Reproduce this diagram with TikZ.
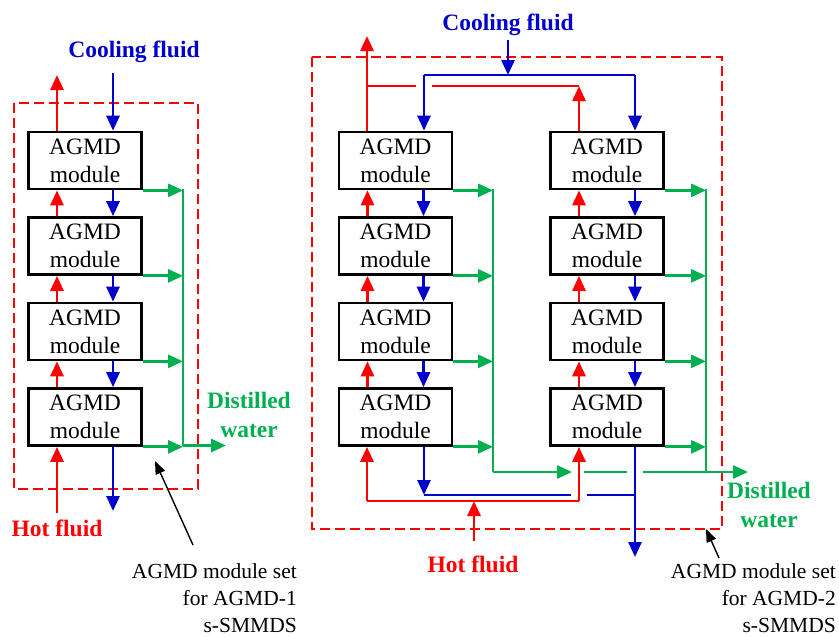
\documentclass[tikz,border=0pt]{standalone}
\usepackage{fontspec}
\setmainfont{Liberation Serif}
\usetikzlibrary{arrows.meta,calc}
\definecolor{cred}{RGB}{255,0,0}
\definecolor{cblue}{RGB}{0,0,204}
\definecolor{cgreen}{RGB}{0,176,80}
\begin{document}
\begin{tikzpicture}[x=1pt,y=-1pt,
  module/.style={draw,line width=2.7pt,minimum width=113pt,minimum height=57pt,inner sep=0pt,align=center,font=\fontsize{23.5}{28}\selectfont},
  pipe/.style={line width=2.8pt},
  tip/.style={-{Triangle[length=15pt,width=13pt]}},
  hot/.style={pipe,cred},
  cold/.style={pipe,cblue},
  dist/.style={pipe,cgreen},
  frame/.style={cred,line width=1.6pt,dash pattern=on 10pt off 5pt},
  lab/.style={font=\bfseries\fontsize{23.5}{29}\selectfont,align=center,inner sep=0pt},
  note/.style={font=\fontsize{21.5}{27}\selectfont,align=right,inner sep=0pt},
  pointer/.style={line width=1.4pt,-{Triangle[length=13pt,width=10pt]}}
]
\useasboundingbox (0,0) rectangle (839,637);

% frames
\draw[frame] (14,103) rectangle (198,489);
\draw[frame] (312,57) rectangle (722,529);

% modules
\foreach \i/\y in {1/160.5,2/246,3/331.5,4/417}{
  \node[module] (L\i) at (85,\y) {AGMD\\module};
  \node[module] (A\i) at (395.5,\y) {AGMD\\module};
  \node[module] (B\i) at (607,\y) {AGMD\\module};
}

% ---------- between modules ----------
\foreach \i/\j in {1/2,2/3,3/4}{
  \draw[hot,tip] ([xshift=-28pt]L\j.north) -- ([xshift=-28pt]L\i.south);
  \draw[cold,tip] ([xshift=28pt]L\i.south) -- ([xshift=28pt]L\j.north);
  \draw[hot,tip] ([xshift=-28pt]A\j.north) -- ([xshift=-28pt]A\i.south);
  \draw[cold,tip] ([xshift=28pt]A\i.south) -- ([xshift=28pt]A\j.north);
  \draw[hot,tip] ([xshift=-28pt]B\j.north) -- ([xshift=-28pt]B\i.south);
  \draw[cold,tip] ([xshift=28pt]B\i.south) -- ([xshift=28pt]B\j.north);
}

% ---------- left set ----------
\coordinate (LhotOut) at (57,75);
\coordinate (LcoolIn) at (113,73);
\coordinate (LhotIn) at (57,513);
\coordinate (LcoolOut) at (113,511);
\draw[hot,tip] ([xshift=-28pt]L1.north) -- (LhotOut);
\draw[cold,tip] (LcoolIn) -- ([xshift=28pt]L1.north);
\draw[hot,tip] (LhotIn) -- ([xshift=-28pt]L4.south);
\draw[cold,tip] ([xshift=28pt]L4.south) -- (LcoolOut);

\coordinate (LgTop) at (183,189);
\coordinate (LgBot) at (183,445.5);
\coordinate (LgOut) at (226,445.5);
\foreach \i in {1,2,3,4}{
  \draw[dist,tip] (L\i.south east) -- (L\i.south east -| LgTop);
}
\draw[dist] (LgTop) -- (LgBot);
\draw[dist,tip] (LgBot) -- (LgOut);

\node[lab,cblue] (LcoolLab) at (134,52) {Cooling fluid};
\node[lab,cred] (LhotLab) at (57,528) {Hot fluid};
\node[lab,cgreen] (LdistLab) at (249,415) {Distilled\\water};

\node[note,anchor=north east] (Lnote) at (297,563) {AGMD module set\\for AGMD-1\\s-SMMDS};
\coordinate (LpStart) at (193,545);
\coordinate (LpEnd) at (155,461);
\draw[pointer] (LpStart) -- (LpEnd);

% ---------- right set ----------
% top cooling distribution
\coordinate (RcoolIn) at (508,40);
\coordinate (RcoolJ) at (508,75);
\coordinate (RcoolA) at (424,75);
\coordinate (RcoolB) at (635,75);
\draw[cold,tip] (RcoolIn) -- (RcoolJ);
\draw[cold] (RcoolA) -- (RcoolB);
\draw[cold,tip] (RcoolA) -- ([xshift=28.5pt]A1.north);
\draw[cold,tip] (RcoolB) -- ([xshift=28pt]B1.north);

% top hot collection
\coordinate (RhotOut) at (367,36);
\coordinate (RhotJA) at (367,86);
\coordinate (RhotGapL) at (416,86);
\coordinate (RhotGapR) at (432,86);
\coordinate (RhotJB) at (579,86);
\draw[hot,tip] ([xshift=-28.5pt]A1.north) -- (RhotOut);
\draw[hot] (RhotJA) -- (RhotGapL);
\draw[hot] (RhotGapR) -- (RhotJB);
\draw[hot,tip] ([xshift=-28pt]B1.north) -- (RhotJB);

% green collectors
\coordinate (AgTop) at (493,189);
\coordinate (AgBot) at (493,472);
\coordinate (BgTop) at (706,189);
\coordinate (BgBot) at (706,472);
\foreach \i in {1,2,3,4}{
  \draw[dist,tip] (A\i.south east) -- (A\i.south east -| AgTop);
  \draw[dist,tip] (B\i.south east) -- (B\i.south east -| BgTop);
}
\draw[dist] (AgTop) -- (AgBot);
\draw[dist] (BgTop) -- (BgBot);
\coordinate (Rg1) at (572,472);
\coordinate (Rg2) at (584,472);
\coordinate (Rg3) at (627,472);
\coordinate (Rg4) at (643,472);
\coordinate (RgOut) at (748,472);
\draw[dist,tip] (AgBot) -- (Rg1);
\draw[dist] (Rg2) -- (Rg3);
\draw[dist,tip] (Rg4) -- (RgOut);

% bottom cooling
\coordinate (RcA) at (424,495);
\coordinate (Rc1) at (571,495);
\coordinate (Rc2) at (587,495);
\coordinate (RcB) at (635,495);
\coordinate (RcoolOut) at (635,557);
\draw[cold,tip] ([xshift=28.5pt]A4.south) -- (RcA);
\draw[cold] (RcA) -- (Rc1);
\draw[cold] (Rc2) -- (RcB);
\draw[cold,tip] ([xshift=28pt]B4.south) -- (RcoolOut);

% bottom hot distribution
\coordinate (RhA) at (367,501);
\coordinate (RhB) at (579,501);
\coordinate (RhJ) at (474,501);
\coordinate (RhotIn) at (474,541);
\draw[hot] (RhA) -- (RhB);
\draw[hot,tip] (RhA) -- ([xshift=-28.5pt]A4.south);
\draw[hot,tip] (RhB) -- ([xshift=-28pt]B4.south);
\draw[hot,tip] (RhotIn) -- (RhJ);

\node[lab,cblue] (RcoolLab) at (508,25) {Cooling fluid};
\node[lab,cred] (RhotLab) at (473,564) {Hot fluid};
\node[lab,cgreen] (RdistLab) at (769,505) {Distilled\\water};

\node[note,anchor=north east] (Rnote) at (836,563) {AGMD module set\\for AGMD-2\\s-SMMDS};
\coordinate (RpStart) at (719,558);
\coordinate (RpEnd) at (706,529);
\draw[pointer] (RpStart) -- (RpEnd);
\end{tikzpicture}
\end{document}
